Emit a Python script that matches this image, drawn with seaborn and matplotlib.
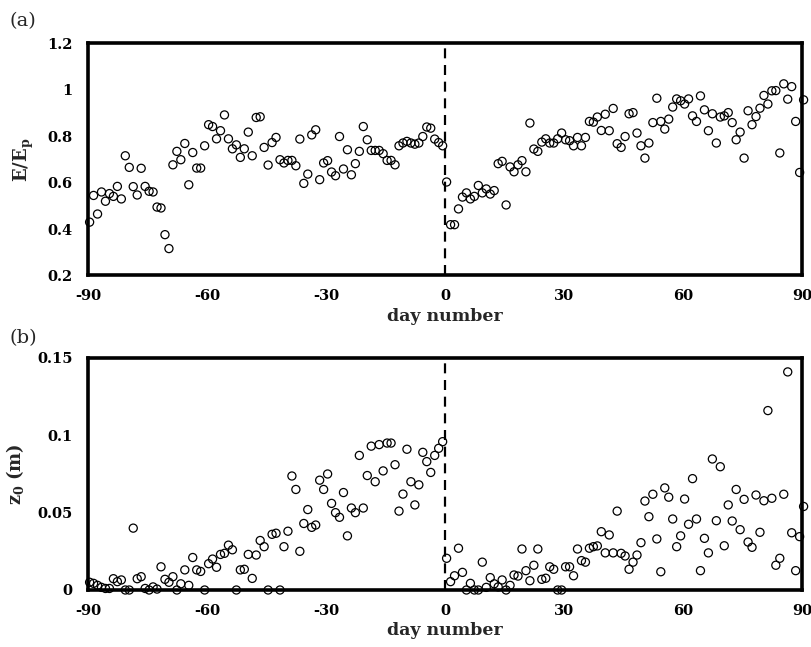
import numpy as np
import pandas as pd
import matplotlib
matplotlib.use("Agg")
import matplotlib.pyplot as plt
import seaborn as sns

# ---------------- data ----------------
days = list(range(-90, 91))

ratio_before = [0.43, 0.545, 0.465, 0.56, 0.52, 0.553, 0.541, 0.584, 0.53, 0.716,
                0.666, 0.583, 0.547, 0.662, 0.584, 0.563, 0.56, 0.495, 0.491, 0.376,
                0.316, 0.677, 0.735, 0.699, 0.769, 0.591, 0.730, 0.663, 0.663, 0.759,
                0.850, 0.842, 0.789, 0.824, 0.892, 0.789, 0.746, 0.763, 0.709, 0.746,
                0.818, 0.716, 0.881, 0.884, 0.752, 0.676, 0.773, 0.795, 0.699,
                0.685, 0.696, 0.696, 0.673, 0.788, 0.597, 0.637, 0.806, 0.828, 0.613,
                0.685, 0.695, 0.646, 0.630, 0.799, 0.659, 0.742, 0.634, 0.682, 0.735,
                0.842, 0.785, 0.739, 0.739, 0.739, 0.725, 0.696, 0.696, 0.677, 0.759,
                0.771, 0.778, 0.771, 0.766, 0.771, 0.799, 0.840, 0.835, 0.788, 0.773,
                0.759]
ratio_after = [0.603, 0.419, 0.419, 0.487, 0.538, 0.556, 0.530, 0.541, 0.588, 0.556,
               0.573, 0.551, 0.566, 0.682, 0.692, 0.504, 0.668, 0.647, 0.677, 0.695,
               0.647, 0.857, 0.745, 0.735, 0.775, 0.789, 0.771, 0.771, 0.789, 0.814,
               0.785, 0.781, 0.759, 0.795, 0.759, 0.795, 0.864, 0.861, 0.883, 0.825,
               0.895, 0.824, 0.920, 0.768, 0.752, 0.799, 0.897,
               0.902, 0.814, 0.759, 0.706, 0.771, 0.859, 0.964, 0.864, 0.831, 0.874,
               0.926, 0.961, 0.953, 0.939, 0.961, 0.888, 0.864, 0.974, 0.914, 0.824,
               0.897, 0.771, 0.883, 0.888, 0.902, 0.859, 0.785, 0.818, 0.706, 0.910,
               0.850, 0.885, 0.921, 0.976, 0.939, 0.996, 0.997, 0.728, 1.026, 0.960,
               1.014, 0.864, 0.644, 0.957]

z0_before = [0.005, 0.0043, 0.003, 0.0017, 0.001, 0.001, 0.0073, 0.0054, 0.0065, 0.0,
             0.0, 0.040, 0.0073, 0.0086, 0.001, 0.0, 0.002, 0.0006, 0.015, 0.0069,
             0.005, 0.0086, 0.0, 0.004, 0.013, 0.003, 0.021, 0.013, 0.012, 0.0,
             0.017, 0.020, 0.0147, 0.023, 0.0237, 0.029, 0.026, 0.0, 0.013, 0.0134,
             0.023, 0.0075, 0.0226, 0.032, 0.028, 0.0, 0.036, 0.0367, 0.0,
             0.028, 0.038, 0.0737, 0.065, 0.025, 0.043, 0.052, 0.0405, 0.042, 0.071,
             0.065, 0.075, 0.056, 0.050, 0.047, 0.063, 0.035, 0.053, 0.050, 0.087,
             0.053, 0.074, 0.093, 0.070, 0.094, 0.077, 0.095, 0.095, 0.081, 0.051,
             0.062, 0.091, 0.070, 0.055, 0.068, 0.089, 0.083, 0.076, 0.087, 0.0916,
             0.0959]
z0_after = [0.0205, 0.0054, 0.0092, 0.027, 0.0114, 0.0, 0.0043, 0.0, 0.0, 0.018,
            0.0017, 0.008, 0.004, 0.002, 0.0065, 0.0, 0.003, 0.0097, 0.009, 0.0265,
            0.0125, 0.006, 0.016, 0.0265, 0.0069, 0.0076, 0.015, 0.0134, 0.0, 0.0,
            0.015, 0.015, 0.0092, 0.0265, 0.019, 0.018, 0.027, 0.028, 0.0285, 0.0377,
            0.024, 0.0356, 0.024, 0.051, 0.0237, 0.022, 0.0134, 0.018, 0.0226, 0.0306,
            0.0575, 0.0474, 0.0619, 0.033, 0.0118, 0.066, 0.060, 0.0459, 0.028, 0.035,
            0.0588, 0.0425, 0.072, 0.0459, 0.0125, 0.0334, 0.024, 0.0847, 0.0448, 0.0797,
            0.0286, 0.055, 0.0446, 0.065, 0.039, 0.0586, 0.031, 0.0276, 0.0614, 0.0373,
            0.0577, 0.116, 0.0593, 0.016, 0.0205, 0.0619, 0.141, 0.037, 0.0125, 0.0345,
            0.054]

xticks = [-90, -60, -30, 0, 30, 60, 90]
xticklabels = ["-90", "-60", "-30", "0", "30", "60", "90"]
yticks_a = [0.2, 0.4, 0.6, 0.8, 1.0, 1.2]
yticklabels_a = ["0.2", "0.4", "0.6", "0.8", "1", "1.2"]
yticks_b = [0, 0.05, 0.1, 0.15]
yticklabels_b = ["0", "0.05", "0.1", "0.15"]

df = pd.DataFrame({
    "day": days,
    "ratio": ratio_before + ratio_after,
    "z0": z0_before + z0_after,
})
df["xpos"] = df["day"] + 0.4

# ---------------- style ----------------
sns.set_style("white")
plt.rcParams["font.family"] = ["DejaVu Serif"]
plt.rcParams["mathtext.fontset"] = "dejavuserif"

fig = plt.figure(figsize=(8.12, 6.47), dpi=100)
ax1 = fig.add_axes([0.1084, 0.5742, 0.8793, 0.3586])
ax2 = fig.add_axes([0.1084, 0.0881, 0.8793, 0.3586])


def style(ax, col, ylim, yt, ytl, ylabel):
    sns.scatterplot(data=df, x="xpos", y=col, ax=ax, marker="o", s=34,
                    facecolor="none", edgecolor="black", linewidth=0.9,
                    clip_on=False, legend=False, zorder=3)
    ax.axvline(0, color="black", ls=(0, (4.5, 3)), lw=1.6, zorder=2)
    ax.set_xlim(-90, 90)
    ax.set_ylim(*ylim)
    ax.set_xticks(xticks)
    ax.set_xticklabels(xticklabels, fontweight="bold", fontsize=10.5)
    ax.set_yticks(yt)
    ax.set_yticklabels(ytl, fontweight="bold", fontsize=10.5)
    ax.tick_params(direction="in", length=5, width=2, colors="black")
    ax.tick_params(axis="x", pad=10)
    ax.tick_params(axis="y", pad=11)
    for s in ax.spines.values():
        s.set_linewidth(2.6)
        s.set_color("black")
    ax.set_xlabel("day number", fontweight="bold", fontsize=12.5, labelpad=3)
    ax.set_ylabel(ylabel, fontsize=13, labelpad=8)


style(ax1, "ratio", (0.2, 1.2), yticks_a, yticklabels_a, r"$\mathbf{E/E_p}$")
style(ax2, "z0", (0, 0.15), yticks_b, yticklabels_b, r"$\mathbf{z_0}$ $\mathbf{(m)}$")

fig.text(0.012, 0.967, "(a)", fontsize=14, va="center", ha="left")
fig.text(0.012, 0.477, "(b)", fontsize=14, va="center", ha="left")

fig.savefig("out.png", dpi=100, facecolor="white")
